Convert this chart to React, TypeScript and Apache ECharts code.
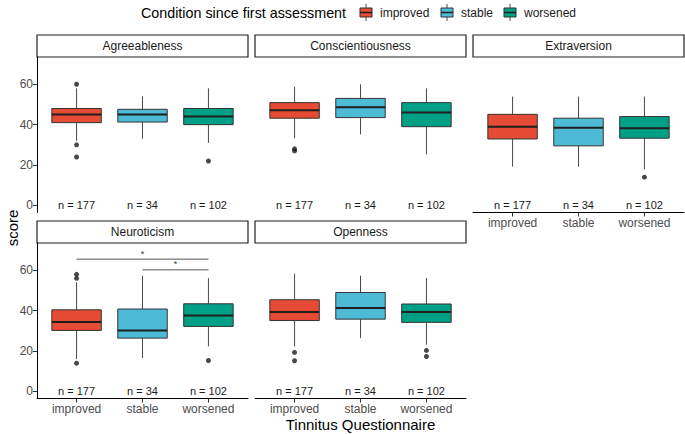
import React, { useEffect, useRef } from "react";
import * as echarts from "echarts";

const categories = ["improved", "stable", "worsened"];
const sampleSizes = [177, 34, 102];
const panelTitles = ["Agreeableness", "Conscientiousness", "Extraversion", "Neuroticism", "Openness"];
const groupColors = ["#E64B35", "#4DBBD5", "#00A087"];

// [lower whisker, Q1, median, Q3, upper whisker]
const agreeablenessStats = [[32, 41, 45, 48, 58], [33, 41.3, 45, 47.6, 54], [31, 40, 44, 48, 58]];
const agreeablenessOutliers = [[60, 30, 24], [], [22]];
const conscientiousnessStats = [[33.3, 43.2, 47.1, 50.9, 58.8], [35.2, 43.5, 48.6, 53, 60], [25.3, 39, 46, 50.9, 58]];
const conscientiousnessOutliers = [[28, 27], [], []];
const extraversionStats = [[19.2, 32.9, 39, 45.1, 53.9], [19.2, 29.5, 38.5, 43.2, 53.9], [17.9, 33.3, 38.2, 44, 53.9]];
const extraversionOutliers = [[], [], [14]];
const neuroticismStats = [[16, 30.2, 34.4, 40.4, 54], [16.5, 26.4, 30.2, 40.8, 57.3], [22.3, 32.2, 37.6, 43.4, 56.1]];
const neuroticismOutliers = [[58, 56, 14], [], [15.3]];
const opennessStats = [[22.3, 35.1, 39.3, 45.4, 58.3], [26.4, 35.8, 41.3, 49, 57.3], [23.1, 34.2, 39.3, 43.3, 56.1]];
const opennessOutliers = [[19.3, 15.2], [], [20.3, 17.3]];
const neuroticismComparisons = [[1, 3, 65.5, "*"], [2, 3, 60.2, "*"]];
const yTicks = [0, 20, 40, 60];

const FONT = "'Liberation Sans', Arial, Helvetica, sans-serif";

const panelStats = [agreeablenessStats, conscientiousnessStats, extraversionStats, neuroticismStats, opennessStats];
const panelOutliers = [agreeablenessOutliers, conscientiousnessOutliers, extraversionOutliers, neuroticismOutliers, opennessOutliers];

// layout
const colLefts = [37, 255, 473];
const panelW = 211;
const panelH = 155.5;
const rowTops = [57, 243];
const stripH = 22;
const panelPos = [
  { col: 0, row: 0 },
  { col: 1, row: 0 },
  { col: 2, row: 0 },
  { col: 0, row: 1 },
  { col: 1, row: 1 },
];
const showXAxis = [false, false, true, true, true];
const showYAxis = [true, false, false, true, false];

function buildOption() {
  const grid: any[] = [];
  const xAxis: any[] = [];
  const yAxis: any[] = [];
  const series: any[] = [];
  const graphic: any[] = [];

  panelPos.forEach((p, i) => {
    const left = colLefts[p.col];
    const top = rowTops[p.row];
    grid.push({ left, top, width: panelW, height: panelH, containLabel: false });
    xAxis.push({
      type: "value",
      gridIndex: i,
      min: 0.4,
      max: 3.6,
      show: showXAxis[i],
      splitLine: { show: false },
      axisLine: { show: true, onZero: false, lineStyle: { color: "#000", width: 1 } },
      axisTick: { show: true, length: 4, customValues: [1, 2, 3], lineStyle: { color: "#333" } },
      axisLabel: {
        show: true,
        customValues: [1, 2, 3],
        formatter: (v: number) => categories[Math.round(v) - 1] || "",
        color: "#4D4D4D",
        fontSize: 12,
        fontFamily: FONT,
        margin: 4,
      },
    });
    yAxis.push({
      type: "value",
      gridIndex: i,
      min: -3.5,
      max: 73.5,
      show: showYAxis[i],
      splitLine: { show: false },
      axisLine: { show: true, onZero: false, lineStyle: { color: "#000", width: 1 } },
      axisTick: { show: true, length: 4, customValues: yTicks, lineStyle: { color: "#333" } },
      axisLabel: {
        show: true,
        customValues: yTicks,
        color: "#4D4D4D",
        fontSize: 12,
        fontFamily: FONT,
        margin: 4,
      },
    });

    const boxData = panelStats[i].map((s, k) => [k + 1, ...s, k]);
    series.push({
      type: "custom",
      xAxisIndex: i,
      yAxisIndex: i,
      encode: { x: 0, y: [1, 2, 3, 4, 5] },
      data: boxData,
      z: 2,
      renderItem: (params: any, api: any) => {
        const x = api.value(0);
        const vMin = api.value(1);
        const q1 = api.value(2);
        const med = api.value(3);
        const q3 = api.value(4);
        const vMax = api.value(5);
        const ci = api.value(6);
        const pMin = api.coord([x, vMin]);
        const pQ1 = api.coord([x, q1]);
        const pMed = api.coord([x, med]);
        const pQ3 = api.coord([x, q3]);
        const pMax = api.coord([x, vMax]);
        const pN = api.coord([x, 0]);
        const halfW = api.size([0.75, 0])[0] / 2;
        const cx = pMed[0];
        return {
          type: "group",
          children: [
            { type: "line", shape: { x1: cx, y1: pMax[1], x2: cx, y2: pQ3[1] }, style: { stroke: "#4a4a4a", lineWidth: 1 } },
            { type: "line", shape: { x1: cx, y1: pQ1[1], x2: cx, y2: pMin[1] }, style: { stroke: "#4a4a4a", lineWidth: 1 } },
            {
              type: "rect",
              shape: { x: cx - halfW, y: pQ3[1], width: halfW * 2, height: pQ1[1] - pQ3[1] },
              style: { fill: groupColors[ci], stroke: "#333", lineWidth: 1 },
            },
            { type: "line", shape: { x1: cx - halfW, y1: pMed[1], x2: cx + halfW, y2: pMed[1] }, style: { stroke: "#1f1f1f", lineWidth: 2 } },
            {
              type: "text",
              x: cx,
              y: pN[1],
              style: {
                text: "n = " + sampleSizes[ci],
                fill: "#1a1a1a",
                fontSize: 11,
                fontFamily: FONT,
                align: "center",
                verticalAlign: "middle",
              },
            },
          ],
        };
      },
    });

    const outData: number[][] = [];
    panelOutliers[i].forEach((arr, k) => arr.forEach((v) => outData.push([k + 1, v])));
    series.push({
      type: "scatter",
      xAxisIndex: i,
      yAxisIndex: i,
      data: outData,
      symbol: "circle",
      symbolSize: 5,
      itemStyle: { color: "#1a1a1a" },
      z: 3,
    });

    // strip
    const sTop = top - stripH;
    graphic.push({
      type: "rect",
      shape: { x: left, y: sTop, width: panelW, height: stripH },
      style: { fill: "#fff", stroke: "#222", lineWidth: 1.2 },
    });
    graphic.push({
      type: "text",
      x: left + panelW / 2,
      y: sTop + stripH / 2,
      style: {
        text: panelTitles[i],
        fill: "#1a1a1a",
        fontSize: 12,
        fontFamily: FONT,
        align: "center",
        verticalAlign: "middle",
      },
    });
  });

  // significance brackets on Neuroticism panel
  series.push({
    type: "custom",
    xAxisIndex: 3,
    yAxisIndex: 3,
    encode: { x: [0, 1], y: 2 },
    data: neuroticismComparisons,
    z: 4,
    renderItem: (params: any, api: any) => {
      const a = api.coord([api.value(0), api.value(2)]);
      const b = api.coord([api.value(1), api.value(2)]);
      return {
        type: "group",
        children: [
          { type: "line", shape: { x1: a[0], y1: a[1], x2: b[0], y2: b[1] }, style: { stroke: "#555", lineWidth: 1 } },
          {
            type: "text",
            x: (a[0] + b[0]) / 2,
            y: a[1] - 1,
            style: {
              text: String(neuroticismComparisons[params.dataIndex][3]),
              fill: "#333",
              fontSize: 9,
              fontFamily: FONT,
              align: "center",
              verticalAlign: "bottom",
            },
          },
        ],
      };
    },
  });

  // legend
  graphic.push({
    type: "text",
    x: 141,
    y: 13,
    style: { text: "Condition since first assessment", fill: "#000", fontSize: 14.3, fontFamily: FONT, verticalAlign: "middle" },
  });
  const keyXs = [359, 440, 503];
  categories.forEach((c, k) => {
    const kx = keyXs[k];
    graphic.push({ type: "line", shape: { x1: kx + 7, y1: 4, x2: kx + 7, y2: 21 }, style: { stroke: "#4a4a4a", lineWidth: 1 } });
    graphic.push({
      type: "rect",
      shape: { x: kx + 1, y: 8, width: 12, height: 9 },
      style: { fill: groupColors[k], stroke: "#333", lineWidth: 1 },
    });
    graphic.push({ type: "line", shape: { x1: kx + 1, y1: 12.5, x2: kx + 13, y2: 12.5 }, style: { stroke: "#1f1f1f", lineWidth: 1.5 } });
    graphic.push({
      type: "text",
      x: kx + 21,
      y: 13,
      style: { text: c, fill: "#1a1a1a", fontSize: 12, fontFamily: FONT, verticalAlign: "middle" },
    });
  });

  // axis titles
  graphic.push({
    type: "text",
    x: 360.5,
    y: 424,
    style: { text: "Tinnitus Questionnaire", fill: "#000", fontSize: 15, fontFamily: FONT, align: "center", verticalAlign: "middle" },
  });
  graphic.push({
    type: "text",
    x: 12,
    y: 228,
    rotation: Math.PI / 2,
    style: { text: "score", fill: "#000", fontSize: 15, fontFamily: FONT, align: "center", verticalAlign: "middle" },
  });

  return {
    animation: false,
    backgroundColor: "#fff",
    textStyle: { fontFamily: FONT },
    grid,
    xAxis,
    yAxis,
    series,
    graphic,
  };
}

export default function App() {
  const ref = useRef<HTMLDivElement>(null);
  useEffect(() => {
    if (!ref.current) return;
    const chart = echarts.init(ref.current, undefined, { renderer: "svg" });
    chart.setOption(buildOption() as any);
    return () => chart.dispose();
  }, []);
  return (
    <div
      ref={ref}
      style={{ position: "fixed", left: 0, top: 0, width: 685, height: 434, background: "#fff" }}
    />
  );
}
